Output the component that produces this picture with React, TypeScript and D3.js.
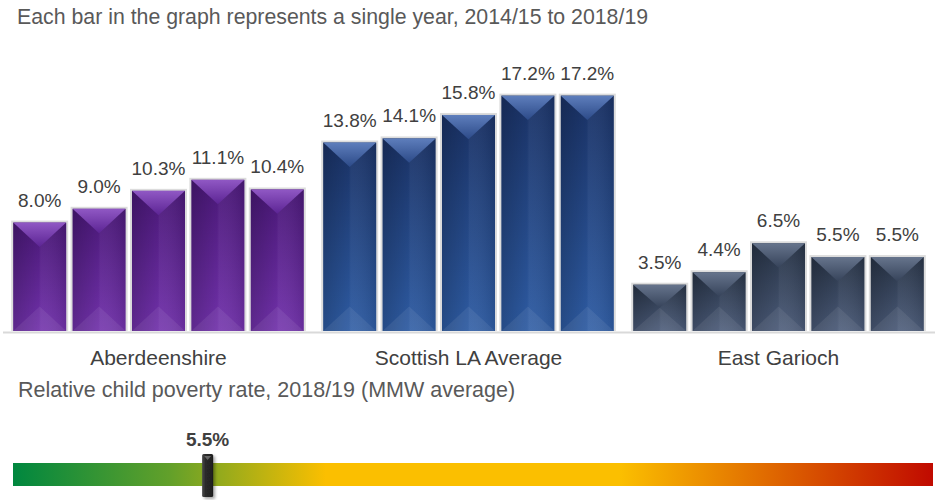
import React from "react";
import * as d3 from "d3";

const TITLE = "Each bar in the graph represents a single year, 2014/15 to 2018/19";
const SUBTITLE = "Relative child poverty rate, 2018/19 (MMW average)";
const areas = ["Aberdeenshire", "Scottish LA Average", "East Garioch"];
const years = ["2014/15", "2015/16", "2016/17", "2017/18", "2018/19"];
const aberdeenshire = [8.0, 9.0, 10.3, 11.1, 10.4];
const scottishAvg = [13.8, 14.1, 15.8, 17.2, 17.2];
const eastGarioch = [3.5, 4.4, 6.5, 5.5, 5.5];
const seriesValues = [aberdeenshire, scottishAvg, eastGarioch];
const currentValue = 5.5;
const rangeMin = 0;
const rangeMax = 26;

const W = 935;
const H = 500;
const FONT = "'Liberation Sans', Arial, Helvetica, sans-serif";

const palettes = [
  { top: "#4a1878", bottom: "#7232ac", bevelTop: "#9058c4", bevelMid: "#5c2494" },
  { top: "#1a3266", bottom: "#2e5ca4", bevelTop: "#5e7ebc", bevelMid: "#2c4a88" },
  { top: "#283447", bottom: "#4b5b79", bevelTop: "#66748c", bevelMid: "#36435a" },
];

export default function App() {
  const x0 = d3.scaleBand<string>().domain(areas).range([10, 927]).paddingInner(0.042);
  const x1 = d3
    .scaleBand<string>()
    .domain(years)
    .range([0, x0.bandwidth()])
    .paddingInner(0.04)
    .paddingOuter(0.02);
  const y = d3.scaleLinear().domain([0, 20]).range([331, 55]);
  const px = d3.scaleLinear().domain([rangeMin, rangeMax]).range([13, 933]);
  const base = y(0);
  const bw = x1.bandwidth();
  const fmt = (v: number) => d3.format(".1f")(v) + "%";
  const mx = px(currentValue);

  return (
    <svg
      width={W}
      height={H}
      viewBox={`0 0 ${W} ${H}`}
      style={{ position: "absolute", left: 0, top: 0, background: "#fff" }}
    >
      <defs>
        {palettes.map((p, i) => (
          <React.Fragment key={i}>
            <linearGradient id={`main${i}`} x1="0" y1="0" x2="0" y2="1">
              <stop offset="0" stopColor={p.top} />
              <stop offset="1" stopColor={p.bottom} />
            </linearGradient>
            <linearGradient id={`bev${i}`} x1="0" y1="0" x2="0" y2="1">
              <stop offset="0" stopColor={p.bevelTop} />
              <stop offset="1" stopColor={p.bevelMid} />
            </linearGradient>
          </React.Fragment>
        ))}
        <linearGradient id="side" x1="0" y1="0" x2="1" y2="0">
          <stop offset="0" stopColor="#000" stopOpacity="0.18" />
          <stop offset="0.48" stopColor="#000" stopOpacity="0.02" />
          <stop offset="0.52" stopColor="#fff" stopOpacity="0.04" />
          <stop offset="1" stopColor="#000" stopOpacity="0.1" />
        </linearGradient>
        <linearGradient id="scale" x1="0" y1="0" x2="1" y2="0">
          <stop offset="0" stopColor="#00873f" />
          <stop offset="0.17" stopColor="#62a02a" />
          <stop offset="0.34" stopColor="#fbbf00" />
          <stop offset="0.66" stopColor="#fbbf00" />
          <stop offset="0.82" stopColor="#e06a00" />
          <stop offset="1" stopColor="#c00a00" />
        </linearGradient>
        <linearGradient id="marker" x1="0" y1="0" x2="1" y2="0">
          <stop offset="0" stopColor="#4a4a4a" />
          <stop offset="0.3" stopColor="#2c2c2c" />
          <stop offset="1" stopColor="#1e1e1e" />
        </linearGradient>
        <filter id="shadow" x="-50%" y="-20%" width="250%" height="150%">
          <feDropShadow dx="2" dy="2" stdDeviation="1.5" floodColor="#000" floodOpacity="0.35" />
        </filter>
      </defs>

      <text x={17} y={24} fontFamily={FONT} fontSize={21.3} fill="#595959">
        {TITLE}
      </text>

      <line x1={3} x2={935} y1={base + 1.5} y2={base + 1.5} stroke="#d9d9d9" strokeWidth={2} />

      {areas.map((area, gi) => {
        const gx = x0(area) as number;
        return (
          <g key={area} transform={`translate(${gx},0)`}>
            {seriesValues[gi].map((v, bi) => {
              const bx = x1(years[bi]) as number;
              const by = y(v);
              const h = base - by;
              const ix = bx + 2;
              const iy = by + 2;
              const iw = bw - 4;
              const ih = h - 2;
              const d = Math.min(iw * 0.46, ih / 2);
              return (
                <g key={bi}>
                  <rect x={bx} y={by} width={bw} height={h} fill="#dcdcdc" />
                  <rect x={ix} y={iy} width={iw} height={ih} fill={`url(#main${gi})`} />
                  <rect x={ix} y={iy} width={iw} height={ih} fill="url(#side)" />
                  <polygon
                    points={`${ix},${iy} ${ix + iw},${iy} ${ix + iw / 2},${iy + d}`}
                    fill={`url(#bev${gi})`}
                  />
                  <polygon
                    points={`${ix},${iy + ih} ${ix + iw},${iy + ih} ${ix + iw / 2},${iy + ih - d}`}
                    fill="#fff"
                    opacity={0.07}
                  />
                  <text
                    x={bx + bw / 2}
                    y={by - 14}
                    textAnchor="middle"
                    fontFamily={FONT}
                    fontSize={19}
                    fill="#404040"
                  >
                    {fmt(v)}
                  </text>
                </g>
              );
            })}
            <text
              x={x0.bandwidth() / 2}
              y={365}
              textAnchor="middle"
              fontFamily={FONT}
              fontSize={21}
              fill="#404040"
            >
              {area}
            </text>
          </g>
        );
      })}

      <text x={18} y={397} fontFamily={FONT} fontSize={21.5} fill="#595959">
        {SUBTITLE}
      </text>

      <rect x={px(rangeMin)} y={463} width={px(rangeMax) - px(rangeMin)} height={23} fill="url(#scale)" />

      <text
        x={mx}
        y={446}
        textAnchor="middle"
        fontFamily={FONT}
        fontSize={19}
        fontWeight="bold"
        fill="#404040"
      >
        {fmt(currentValue)}
      </text>
      <g filter="url(#shadow)">
        <rect x={mx - 5.5} y={454} width={11} height={43} rx={1.5} fill="url(#marker)" />
        <polygon points={`${mx - 3.5},${456} ${mx + 3.5},${456} ${mx},${460}`} fill="#666" />
      </g>
    </svg>
  );
}
